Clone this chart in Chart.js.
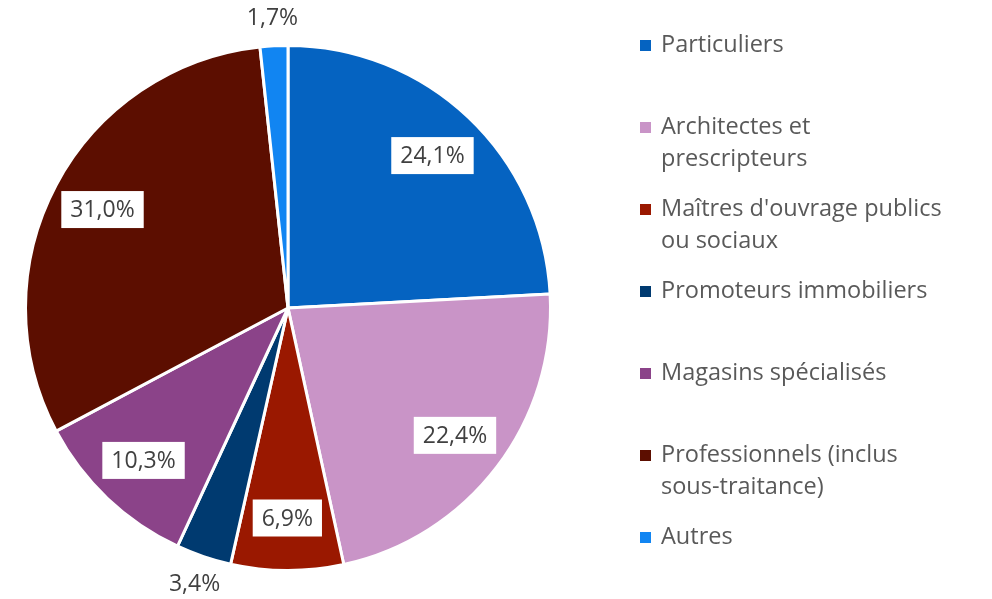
<!DOCTYPE html>
<html>
<head>
<meta charset="utf-8">
<script src="https://cdn.jsdelivr.net/npm/chart.js@4/dist/chart.umd.min.js"></script>
<style>
  body { margin: 0; background: #fff; }
  #wrap { width: 992px; height: 599px; }
</style>
</head>
<body>
<div id="wrap"><canvas id="pieChart" width="992" height="599"></canvas></div>
<script>
const categories = [
  ["Particuliers"],
  ["Architectes et", "prescripteurs"],
  ["Maîtres d'ouvrage publics", "ou sociaux"],
  ["Promoteurs immobiliers"],
  ["Magasins spécialisés"],
  ["Professionnels (inclus", "sous-traitance)"],
  ["Autres"]
];
const shares = [24.1, 22.4, 6.9, 3.4, 10.3, 31.0, 1.7];
const valueLabels = ["24,1%", "22,4%", "6,9%", "3,4%", "10,3%", "31,0%", "1,7%"];
const colors = ["#0563C1", "#C994C7", "#9A1800", "#003A70", "#8B4389", "#5C0E00", "#1185F2"];
// labels drawn outside the pie (small slices)
const outside = [false, false, false, true, false, false, true];

const fontFamily = "'Open Sans', 'Noto Sans', sans-serif";

// value labels: white box inside, plain text outside
const labelPlugin = {
  id: "valueLabels",
  afterDatasetsDraw(chart) {
    const ctx = chart.ctx;
    const arcs = chart.getDatasetMeta(0).data;
    ctx.save();
    ctx.font = "23px " + fontFamily;
    ctx.textAlign = "center";
    ctx.textBaseline = "middle";
    arcs.forEach((arc, i) => {
      const mid = (arc.startAngle + arc.endAngle) / 2;
      const r = outside[i] ? arc.outerRadius + 28 : arc.outerRadius * 0.8;
      const x = arc.x + Math.cos(mid) * r;
      const y = arc.y + Math.sin(mid) * r;
      const txt = valueLabels[i];
      if (!outside[i]) {
        const w = ctx.measureText(txt).width + 18;
        const h = 37;
        ctx.fillStyle = "#ffffff";
        ctx.fillRect(x - w / 2, y - h / 2, w, h);
      }
      ctx.fillStyle = "#404040";
      ctx.fillText(txt, x, y + 1);
    });
    ctx.restore();
  }
};

// legend on the right, one slot of 82px per item
const legendPlugin = {
  id: "sideLegend",
  afterDraw(chart) {
    const ctx = chart.ctx;
    ctx.save();
    ctx.font = "23.5px " + fontFamily;
    ctx.textBaseline = "middle";
    categories.forEach((lines, i) => {
      const y = 45 + i * 82;
      ctx.fillStyle = colors[i];
      ctx.fillRect(640, y - 5, 11, 11);
      ctx.fillStyle = "#595959";
      lines.forEach((line, j) => {
        ctx.fillText(line, 661, y + j * 32);
      });
    });
    ctx.restore();
  }
};

new Chart(document.getElementById("pieChart"), {
  type: "pie",
  data: {
    labels: categories.map(l => l.join(" ")),
    datasets: [{
      data: shares,
      backgroundColor: colors,
      borderColor: "#ffffff",
      borderWidth: 3
    }]
  },
  options: {
    responsive: false,
    animation: false,
    layout: { padding: { left: 24, right: 440, top: 44, bottom: 27 } },
    plugins: {
      legend: { display: false },
      tooltip: { enabled: false }
    }
  },
  plugins: [labelPlugin, legendPlugin]
});
</script>
</body>
</html>
